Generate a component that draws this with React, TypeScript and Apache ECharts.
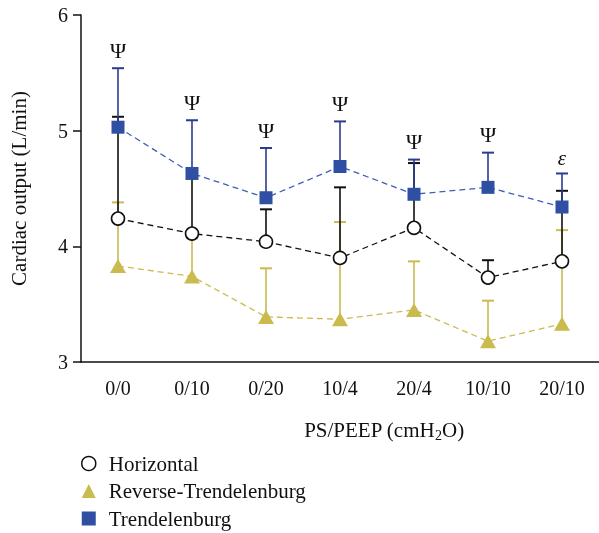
import React, { useEffect, useRef } from "react";
import * as echarts from "echarts";

const categories = ["0/0", "0/10", "0/20", "10/4", "20/4", "10/10", "20/10"];
const horizontalMean = [4.24, 4.11, 4.04, 3.9, 4.16, 3.73, 3.87];
const horizontalUpper = [5.12, 4.6, 4.32, 4.51, 4.72, 3.88, 4.48];
const reverseMean = [3.83, 3.74, 3.39, 3.37, 3.45, 3.18, 3.33];
const reverseUpper = [4.38, 4.07, 3.81, 4.21, 3.87, 3.53, 4.14];
const trendMean = [5.03, 4.63, 4.42, 4.69, 4.45, 4.51, 4.34];
const trendUpper = [5.54, 5.09, 4.85, 5.08, 4.75, 4.81, 4.63];
const significance = ["Ψ", "Ψ", "Ψ", "Ψ", "Ψ", "Ψ", "ε"];
const yTicks = [3, 4, 5, 6];

const FONT = "Liberation Serif";
const BLACK = "#111111";
const YELLOW = "#c9bb4e";
const BLUE = "#2f4fa3";
const BLUE_LINE = "#3d5fb5";
const NAVY = "#2b3b8e";

function errSeries(name: string, mean: number[], upper: number[], color: string, z: number) {
  return {
    type: "custom",
    name: name + "-err",
    z,
    silent: true,
    data: mean.map((m, i) => [i, m, upper[i]]),
    encode: { x: 0, y: [1, 2] },
    renderItem: (params: any, api: any) => {
      const p0 = api.coord([api.value(0), api.value(1)]);
      const p1 = api.coord([api.value(0), api.value(2)]);
      return {
        type: "group",
        children: [
          { type: "line", shape: { x1: p0[0], y1: p0[1], x2: p1[0], y2: p1[1] }, style: { stroke: color, lineWidth: 1.6 } },
          { type: "line", shape: { x1: p1[0] - 6, y1: p1[1], x2: p1[0] + 6, y2: p1[1] }, style: { stroke: color, lineWidth: 2 } },
        ],
      };
    },
  };
}

export default function App() {
  const ref = useRef<HTMLDivElement>(null);
  useEffect(() => {
    if (!ref.current) return;
    const chart = echarts.init(ref.current, null, { renderer: "svg" });
    chart.setOption({
      animation: false,
      textStyle: { fontFamily: FONT },
      grid: { left: 81, top: 15, bottom: 171, right: -4 },
      graphic: [
        {
          type: "text",
          x: 384,
          y: 430,
          style: {
            text: "{a|PS/PEEP (cmH}{s|2}{a|O)}",
            align: "center",
            verticalAlign: "middle",
            rich: {
              a: { fontSize: 21, fontFamily: FONT, fill: BLACK, color: BLACK },
              s: { fontSize: 14, fontFamily: FONT, fill: BLACK, color: BLACK, padding: [10, 0, 0, 0] },
            },
          },
        },
      ],
      xAxis: {
        type: "category",
        data: categories,
        boundaryGap: true,
        axisLine: { lineStyle: { color: BLACK, width: 1.5 } },
        axisTick: { alignWithLabel: true, length: 7, lineStyle: { color: BLACK, width: 1.5 } },
        axisLabel: { color: BLACK, fontSize: 20, fontFamily: FONT, margin: 16 },
      },
      yAxis: {
        type: "value",
        min: yTicks[0],
        max: yTicks[yTicks.length - 1],
        interval: 1,
        splitLine: { show: false },
        axisLine: { show: true, lineStyle: { color: BLACK, width: 1.5 } },
        axisTick: { show: true, length: 8, lineStyle: { color: BLACK, width: 1.5 } },
        axisLabel: { color: BLACK, fontSize: 20, fontFamily: FONT, margin: 13 },
        name: "Cardiac output (L/min)",
        nameLocation: "middle",
        nameGap: 52,
        nameTextStyle: { fontSize: 21, fontFamily: FONT, color: BLACK },
      },
      legend: {
        orient: "vertical",
        left: 81,
        top: 453,
        padding: 0,
        itemWidth: 14,
        itemHeight: 14,
        itemGap: 6.5,
        textStyle: { fontSize: 21, fontFamily: FONT, color: BLACK, padding: [0, 0, 0, 8] },
        data: [
          { name: "Horizontal", icon: "circle", itemStyle: { color: "#fff", borderColor: BLACK, borderWidth: 1.5 } },
          { name: "Reverse-Trendelenburg", icon: "triangle", itemStyle: { color: YELLOW, borderWidth: 0 } },
          { name: "Trendelenburg", icon: "rect", itemStyle: { color: BLUE, borderWidth: 0 } },
        ],
      },
      series: [
        errSeries("Reverse-Trendelenburg", reverseMean, reverseUpper, YELLOW, 2),
        {
          type: "line",
          name: "Reverse-Trendelenburg",
          z: 3,
          data: reverseMean,
          symbol: "triangle",
          symbolSize: [16, 14],
          itemStyle: { color: YELLOW },
          lineStyle: { color: YELLOW, width: 1.3, type: [6, 4] },
        },
        errSeries("Horizontal", horizontalMean, horizontalUpper, BLACK, 4),
        {
          type: "line",
          name: "Horizontal",
          z: 5,
          data: horizontalMean,
          symbol: "circle",
          symbolSize: 13,
          showAllSymbol: true,
          itemStyle: { color: "#fff", borderColor: BLACK, borderWidth: 1.6 },
          lineStyle: { color: BLACK, width: 1.3, type: [6, 4] },
        },
        errSeries("Trendelenburg", trendMean, trendUpper, NAVY, 6),
        {
          type: "line",
          name: "Trendelenburg",
          z: 7,
          data: trendMean,
          symbol: "rect",
          symbolSize: 13,
          itemStyle: { color: BLUE },
          lineStyle: { color: BLUE_LINE, width: 1.3, type: [6, 4] },
        },
        {
          type: "custom",
          name: "sig",
          z: 8,
          silent: true,
          data: trendUpper.map((u, i) => [i, u]),
          renderItem: (params: any, api: any) => {
            const p = api.coord([api.value(0), api.value(1)]);
            const t = significance[params.dataIndex];
            return {
              type: "text",
              x: p[0],
              y: p[1] - (t === "ε" ? 5 : 7),
              style: {
                text: t,
                fontSize: t === "ε" ? 21 : 22,
                fontFamily: FONT,
                fontStyle: t === "ε" ? "italic" : "normal",
                fill: BLACK,
                align: "center",
                verticalAlign: "bottom",
              },
            };
          },
        },
      ],
    });
    return () => chart.dispose();
  }, []);
  return <div ref={ref} style={{ position: "fixed", left: 0, top: 0, width: 599, height: 533 }} />;
}
